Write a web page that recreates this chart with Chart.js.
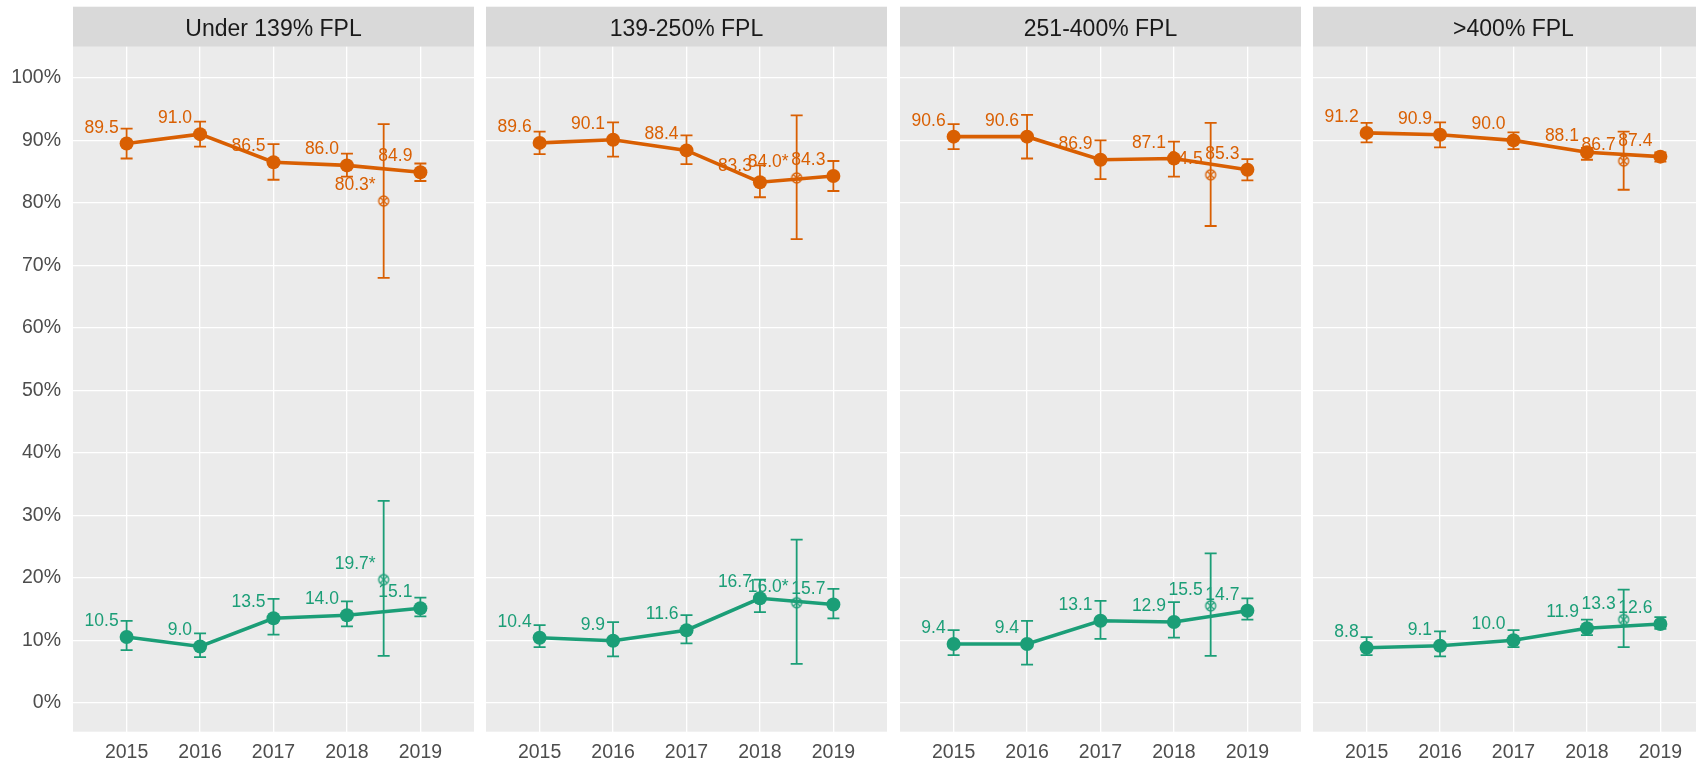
<!DOCTYPE html>
<html lang="en">
<head>
<meta charset="UTF-8">
<title>Coverage by FPL group, 2015-2019</title>
<style>
  html, body { margin: 0; padding: 0; background: #fff; overflow: hidden; }
  body { width: 1696px; height: 764px; position: relative; }
  .panel { position: absolute; top: 0; height: 764px; }
</style>
</head>
<body>
<div class="panel" style="left:0px;width:474px"><canvas id="c0"></canvas></div>
<div class="panel" style="left:486px;width:401px"><canvas id="c1"></canvas></div>
<div class="panel" style="left:900px;width:401px"><canvas id="c2"></canvas></div>
<div class="panel" style="left:1313px;width:401px"><canvas id="c3"></canvas></div>

<script src="https://cdn.jsdelivr.net/npm/chart.js"></script>
<script>
const years = [2015, 2016, 2017, 2018, 2019];
const yTicks = [0, 10, 20, 30, 40, 50, 60, 70, 80, 90, 100];
const panelTitles = ['Under 139% FPL', '139-250% FPL', '251-400% FPL', '>400% FPL'];

// orange series, one row per panel
const orangeVals = [
  [89.5, 91.0, 86.5, 86.0, 84.9],
  [89.6, 90.1, 88.4, 83.3, 84.3],
  [90.6, 90.6, 86.9, 87.1, 85.3],
  [91.2, 90.9, 90.0, 88.1, 87.4]
];
const orangeLo = [
  [87.1, 89.0, 83.7, 84.2, 83.5],
  [87.8, 87.4, 86.2, 80.9, 81.9],
  [88.6, 87.1, 83.8, 84.2, 83.6],
  [89.7, 88.9, 88.6, 86.9, 86.6]
];
const orangeHi = [
  [91.9, 93.0, 89.4, 87.9, 86.3],
  [91.4, 92.9, 90.8, 86.0, 86.7],
  [92.6, 94.1, 90.0, 89.8, 87.0],
  [92.8, 92.9, 91.3, 88.8, 88.1]
];

// green series
const greenVals = [
  [10.5, 9.0, 13.5, 14.0, 15.1],
  [10.4, 9.9, 11.6, 16.7, 15.7],
  [9.4, 9.4, 13.1, 12.9, 14.7],
  [8.8, 9.1, 10.0, 11.9, 12.6]
];
const greenLo = [
  [8.4, 7.3, 10.9, 12.2, 13.8],
  [8.9, 7.4, 9.5, 14.5, 13.5],
  [7.6, 6.1, 10.2, 10.4, 13.3],
  [7.6, 7.4, 8.9, 10.8, 11.8]
];
const greenHi = [
  [13.1, 11.1, 16.6, 16.2, 16.8],
  [12.4, 12.9, 14.0, 19.7, 18.2],
  [11.6, 13.1, 16.3, 16.1, 16.7],
  [10.5, 11.4, 11.6, 13.3, 13.7]
];

// separate mid-2018 estimate (drawn as a crossed circle, not joined)
const extraYear = 2018.5;
const orangeExtra = [80.3, 84.0, 84.5, 86.7];
const orangeExtraLo = [68.0, 74.2, 76.3, 82.1];
const orangeExtraHi = [92.6, 94.0, 92.8, 91.4];
const greenExtra = [19.7, 16.0, 15.5, 13.3];
const greenExtraLo = [7.5, 6.2, 7.5, 8.9];
const greenExtraHi = [32.3, 26.1, 23.9, 18.1];
const extraStar = [true, true, false, false];

const ORANGE = '#D95F02';
const GREEN = '#1B9E77';
const FONT = '"Liberation Sans", Arial, sans-serif';

function crossedCircle(color) {
  const c = document.createElement('canvas');
  c.width = 14; c.height = 14;
  const g = c.getContext('2d');
  g.strokeStyle = color;
  g.lineWidth = 1.3;
  g.beginPath(); g.arc(7, 7, 5, 0, Math.PI * 2); g.stroke();
  const d = 5 * Math.SQRT1_2;
  g.beginPath();
  g.moveTo(7 - d, 7 - d); g.lineTo(7 + d, 7 + d);
  g.moveTo(7 + d, 7 - d); g.lineTo(7 - d, 7 + d);
  g.stroke();
  return c;
}
const orangeMark = crossedCircle(ORANGE);
const greenMark = crossedCircle(GREEN);

// strip, panel background, error bars and value labels
const panelDecor = {
  id: 'panelDecor',
  beforeDraw(chart, args, opts) {
    const { ctx, chartArea: a } = chart;
    ctx.save();
    ctx.fillStyle = '#EBEBEB';
    ctx.fillRect(a.left, a.top, a.right - a.left, a.bottom - a.top);
    ctx.fillStyle = '#D9D9D9';
    ctx.fillRect(a.left, 6.7, a.right - a.left, a.top - 6.7);
    ctx.fillStyle = '#1A1A1A';
    ctx.font = '23px ' + FONT;
    ctx.textAlign = 'center';
    ctx.textBaseline = 'alphabetic';
    ctx.fillText(opts.title, (a.left + a.right) / 2, 36);
    ctx.restore();
  },
  beforeDatasetsDraw(chart) {
    const { ctx, scales: { x, y } } = chart;
    ctx.save();
    ctx.lineWidth = 1.8;
    chart.data.datasets.forEach(ds => {
      ctx.strokeStyle = ds.borderColor;
      ds.data.forEach((p, j) => {
        const px = x.getPixelForValue(p.x);
        const y0 = y.getPixelForValue(ds.errLo[j]);
        const y1 = y.getPixelForValue(ds.errHi[j]);
        ctx.beginPath();
        ctx.moveTo(px, y0); ctx.lineTo(px, y1);
        ctx.moveTo(px - 6, y0); ctx.lineTo(px + 6, y0);
        ctx.moveTo(px - 6, y1); ctx.lineTo(px + 6, y1);
        ctx.stroke();
      });
    });
    ctx.restore();
  },
  afterDatasetsDraw(chart) {
    const { ctx } = chart;
    ctx.save();
    ctx.font = '17.5px ' + FONT;
    ctx.textAlign = 'right';
    ctx.textBaseline = 'alphabetic';
    chart.data.datasets.forEach((ds, i) => {
      ctx.fillStyle = ds.borderColor;
      chart.getDatasetMeta(i).data.forEach((pt, j) => {
        ctx.fillText(ds.valueText[j], pt.x - 8, pt.y - 11);
      });
    });
    ctx.restore();
  }
};

function pts(xs, vals) {
  return vals.map((v, j) => ({ x: xs[j], y: v }));
}

panelTitles.forEach((title, i) => {
  const star = extraStar[i] ? '*' : '';
  new Chart(document.getElementById('c' + i), {
    type: 'line',
    data: {
      datasets: [
        {
          data: pts(years, orangeVals[i]),
          errLo: orangeLo[i], errHi: orangeHi[i],
          valueText: orangeVals[i].map(v => v.toFixed(1)),
          borderColor: ORANGE, backgroundColor: ORANGE,
          borderWidth: 3.6, tension: 0,
          pointRadius: 7, pointHoverRadius: 7, pointBorderWidth: 0
        },
        {
          data: pts(years, greenVals[i]),
          errLo: greenLo[i], errHi: greenHi[i],
          valueText: greenVals[i].map(v => v.toFixed(1)),
          borderColor: GREEN, backgroundColor: GREEN,
          borderWidth: 3.6, tension: 0,
          pointRadius: 7, pointHoverRadius: 7, pointBorderWidth: 0
        },
        {
          data: [{ x: extraYear, y: orangeExtra[i] }],
          errLo: [orangeExtraLo[i]], errHi: [orangeExtraHi[i]],
          valueText: [orangeExtra[i].toFixed(1) + star],
          borderColor: ORANGE, showLine: false,
          pointStyle: orangeMark, pointRadius: 5
        },
        {
          data: [{ x: extraYear, y: greenExtra[i] }],
          errLo: [greenExtraLo[i]], errHi: [greenExtraHi[i]],
          valueText: [greenExtra[i].toFixed(1) + star],
          borderColor: GREEN, showLine: false,
          pointStyle: greenMark, pointRadius: 5
        }
      ]
    },
    options: {
      responsive: true,
      maintainAspectRatio: false,
      animation: false,
      events: [],
      layout: {
        autoPadding: false,
        padding: { top: 46.7, left: 0, right: 0, bottom: 0 }
      },
      plugins: {
        legend: { display: false },
        tooltip: { enabled: false },
        panelDecor: { title: title }
      },
      scales: {
        x: {
          type: 'linear',
          min: 2014.27,
          max: 2019.73,
          afterBuildTicks: s => { s.ticks = years.map(v => ({ value: v })); },
          afterFit: s => {
            s.height = 32.3;
            s.paddingLeft = 0;
            s.paddingRight = 0;
          },
          grid: { color: '#FFFFFF', lineWidth: 1.3, drawTicks: false },
          border: { display: false },
          ticks: {
            color: '#4D4D4D',
            font: { family: FONT, size: 19.5 },
            padding: 9,
            maxRotation: 0,
            autoSkip: false,
            callback: v => String(v)
          }
        },
        y: {
          min: -4.65,
          max: 105,
          afterBuildTicks: s => { s.ticks = yTicks.map(v => ({ value: v })); },
          afterFit: s => {
            s.width = i === 0 ? 73 : 0;
            s.paddingTop = 0;
            s.paddingBottom = 0;
          },
          grid: { color: '#FFFFFF', lineWidth: 1.3, drawTicks: false },
          border: { display: false },
          ticks: {
            display: i === 0,
            color: '#4D4D4D',
            font: { family: FONT, size: 19.5 },
            padding: 12,
            callback: v => v + '%'
          }
        }
      }
    },
    plugins: [panelDecor]
  });
});
</script>
</body>
</html>
